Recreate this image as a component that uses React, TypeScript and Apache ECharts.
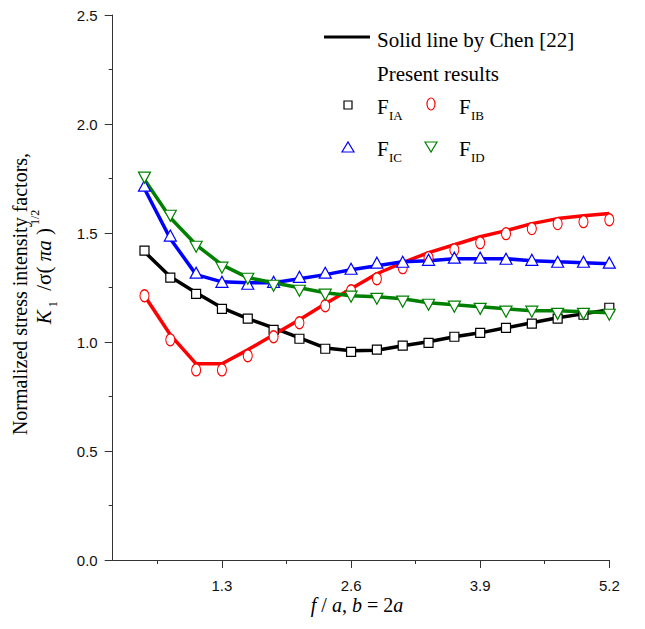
import React, { useEffect, useRef } from "react";
import * as echarts from "echarts";

// f/a positions of the computed points
const X_VALUES = [0.52, 0.78, 1.04, 1.3, 1.56, 1.82, 2.08, 2.34, 2.6, 2.86, 3.12, 3.38, 3.64, 3.9, 4.16, 4.42, 4.68, 4.94, 5.2];

// Solid lines by Chen [22]
const CHEN_A = [1.414, 1.299, 1.226, 1.157, 1.107, 1.065, 1.019, 0.973, 0.96, 0.962, 0.983, 1.001, 1.024, 1.042, 1.065, 1.088, 1.111, 1.129, 1.148];
const CHEN_B = [1.212, 1.033, 0.9, 0.9, 0.964, 1.033, 1.102, 1.175, 1.244, 1.313, 1.364, 1.41, 1.446, 1.483, 1.511, 1.543, 1.566, 1.579, 1.589];
const CHEN_C = [1.703, 1.474, 1.309, 1.276, 1.272, 1.272, 1.29, 1.309, 1.331, 1.35, 1.368, 1.373, 1.382, 1.382, 1.382, 1.373, 1.368, 1.364, 1.359];
const CHEN_D = [1.745, 1.57, 1.446, 1.354, 1.295, 1.272, 1.249, 1.226, 1.212, 1.208, 1.198, 1.18, 1.171, 1.162, 1.152, 1.143, 1.143, 1.139, 1.134];

// Present results
const F_IA = [1.419, 1.295, 1.221, 1.152, 1.107, 1.056, 1.015, 0.969, 0.955, 0.965, 0.983, 0.996, 1.024, 1.042, 1.065, 1.084, 1.107, 1.125, 1.157];
const F_IB = [1.212, 1.01, 0.872, 0.872, 0.937, 1.024, 1.088, 1.166, 1.235, 1.29, 1.341, 1.387, 1.423, 1.455, 1.497, 1.52, 1.543, 1.552, 1.561];
const F_IC = [1.717, 1.488, 1.318, 1.276, 1.267, 1.276, 1.299, 1.318, 1.336, 1.364, 1.368, 1.377, 1.387, 1.387, 1.382, 1.377, 1.368, 1.368, 1.364];
const F_ID = [1.754, 1.579, 1.437, 1.341, 1.29, 1.258, 1.235, 1.217, 1.208, 1.198, 1.185, 1.171, 1.162, 1.152, 1.139, 1.139, 1.129, 1.129, 1.125];

const X_MAJOR_TICKS = [1.3, 2.6, 3.9, 5.2];
const X_MINOR_TICKS = [0.65, 1.95, 3.25, 4.55];

const SERIF = "'Liberation Serif', 'Times New Roman', serif";
const SANS = "'Liberation Sans', Arial, sans-serif";

const ELLIPSE = "path://M0,6 A4.5,6 0 1,1 9,6 A4.5,6 0 1,1 0,6 Z";

const toPairs = (ys: number[]) => X_VALUES.map((x, i) => [x, ys[i]]);

const lineSeries = (name: string, ys: number[], color: string) => ({
  name,
  type: "line",
  data: toPairs(ys),
  symbol: "none",
  smooth: false,
  z: 2,
  lineStyle: { width: 3.5, color },
  itemStyle: { color },
});

const markerSeries = (name: string, ys: number[], color: string, symbol: string, size: any, rotate = 0) => ({
  name,
  type: "scatter",
  data: toPairs(ys),
  symbol,
  symbolSize: size,
  symbolRotate: rotate,
  z: 3,
  itemStyle: { color: "#ffffff", borderColor: color, borderWidth: 1.2, opacity: 1 },
});

function subText(x: number, y: number, main: string, sub: string) {
  return [
    {
      type: "text",
      x,
      y,
      style: { text: main, fontSize: 21, fontFamily: SERIF, fill: "#000", align: "left", verticalAlign: "middle", textAlign: "left", textVerticalAlign: "middle" },
    },
    {
      type: "text",
      x: x + 12,
      y: y + 8,
      style: { text: sub, fontSize: 13, fontFamily: SERIF, fill: "#000", align: "left", verticalAlign: "middle", textAlign: "left", textVerticalAlign: "middle" },
    },
  ];
}

const option: any = {
  animation: false,
  grid: { left: 112.7, right: 35.7, top: 15, bottom: 69, containLabel: false },
  xAxis: [
    {
      type: "value",
      min: 0.2,
      max: 5.2,
      axisLine: { show: true, lineStyle: { color: "#333", width: 1 } },
      axisTick: { show: true, customValues: X_MAJOR_TICKS, length: 8, lineStyle: { color: "#333", width: 1 } },
      axisLabel: {
        show: true,
        customValues: X_MAJOR_TICKS,
        formatter: (v: number) => v.toFixed(1),
        fontSize: 15,
        lineHeight: 15,
        fontFamily: SANS,
        color: "#111",
        margin: 18,
      },
      splitLine: { show: false },
    },
    {
      type: "value",
      min: 0.2,
      max: 5.2,
      position: "bottom",
      axisLine: { show: false },
      axisTick: { show: true, customValues: X_MINOR_TICKS, length: 4, lineStyle: { color: "#333", width: 1 } },
      axisLabel: { show: false },
      splitLine: { show: false },
    },
  ],
  yAxis: {
    type: "value",
    min: 0,
    max: 2.5,
    interval: 0.5,
    axisLine: { show: true, lineStyle: { color: "#333", width: 1 } },
    axisTick: { show: true, length: 8, lineStyle: { color: "#333", width: 1 } },
    minorTick: { show: true, splitNumber: 2, length: 4, lineStyle: { color: "#333", width: 1 } },
    axisLabel: {
      formatter: (v: number) => v.toFixed(1),
      fontSize: 15,
      fontFamily: SANS,
      color: "#111",
      margin: 15,
    },
    splitLine: { show: false },
    minorSplitLine: { show: false },
  },
  series: [
    lineSeries("Chen F_IA", CHEN_A, "#000000"),
    lineSeries("Chen F_IB", CHEN_B, "#ff0000"),
    lineSeries("Chen F_IC", CHEN_C, "#0000ff"),
    lineSeries("Chen F_ID", CHEN_D, "#008000"),
    markerSeries("F_IA", F_IA, "#000000", "rect", 9),
    markerSeries("F_IB", F_IB, "#ff0000", ELLIPSE, [9, 12]),
    markerSeries("F_IC", F_IC, "#0000ff", "triangle", [12, 11]),
    markerSeries("F_ID", F_ID, "#008000", "triangle", [12, 11], 180),
  ],
  graphic: [
    // legend
    { type: "line", shape: { x1: 324, y1: 37, x2: 370, y2: 37 }, style: { stroke: "#000", lineWidth: 3 } },
    {
      type: "text",
      x: 377,
      y: 40,
      style: { text: "Solid line by Chen [22]", fontSize: 21, fontFamily: SERIF, fill: "#000", align: "left", verticalAlign: "middle", textAlign: "left", textVerticalAlign: "middle" },
    },
    {
      type: "text",
      x: 377,
      y: 74,
      style: { text: "Present results", fontSize: 21, fontFamily: SERIF, fill: "#000", align: "left", verticalAlign: "middle", textAlign: "left", textVerticalAlign: "middle" },
    },
    { type: "rect", shape: { x: 344, y: 101, width: 8, height: 8 }, style: { fill: "#fff", stroke: "#000", lineWidth: 1.2 } },
    ...subText(377, 107, "F", "IA"),
    { type: "ellipse", shape: { cx: 431, cy: 104, rx: 4, ry: 6 }, style: { fill: "#fff", stroke: "#ff0000", lineWidth: 1.2 } },
    ...subText(459, 107, "F", "IB"),
    { type: "polygon", shape: { points: [[342, 152], [354, 152], [348, 142]] }, style: { fill: "#fff", stroke: "#0000ff", lineWidth: 1.2 } },
    ...subText(377, 149, "F", "IC"),
    { type: "polygon", shape: { points: [[425, 142], [437, 142], [431, 152]] }, style: { fill: "#fff", stroke: "#008000", lineWidth: 1.2 } },
    ...subText(459, 149, "F", "ID"),
    // y-axis title
    {
      type: "text",
      x: 20,
      y: 294,
      rotation: Math.PI / 2,
      style: { text: "Normalized stress intensity factors,", fontSize: 20, fontFamily: SERIF, fill: "#000", align: "center", verticalAlign: "middle", textAlign: "center", textVerticalAlign: "middle" },
    },
    {
      type: "text",
      x: 44,
      y: 267,
      rotation: Math.PI / 2,
      style: {
        text: "{i|K}{sub| 1}{n|  /σ( }{i|πa}{n| )}{sup| 1/2}",
        fontSize: 21,
        fontFamily: SERIF,
        fill: "#000",
        align: "center",
        verticalAlign: "middle",
        textAlign: "center",
        textVerticalAlign: "middle",
        rich: {
          i: { fontSize: 21, fontFamily: SERIF, fontStyle: "italic", lineHeight: 30, verticalAlign: "middle", fill: "#000" },
          n: { fontSize: 21, fontFamily: SERIF, lineHeight: 30, verticalAlign: "middle", fill: "#000" },
          sub: { fontSize: 12, fontFamily: SERIF, lineHeight: 12, verticalAlign: "bottom", fill: "#000" },
          sup: { fontSize: 12, fontFamily: SERIF, lineHeight: 24, verticalAlign: "top", fill: "#000" },
        },
      },
    },
    // x-axis title
    {
      type: "text",
      x: 357,
      y: 605,
      style: {
        text: "{i|f}{n| / }{i|a}{n|, }{i|b}{n| = 2}{i|a}",
        fontSize: 20,
        fontFamily: SERIF,
        fill: "#000",
        align: "center",
        verticalAlign: "middle",
        textAlign: "center",
        textVerticalAlign: "middle",
        rich: {
          i: { fontSize: 20, fontFamily: SERIF, fontStyle: "italic", lineHeight: 20, fill: "#000" },
          n: { fontSize: 20, fontFamily: SERIF, lineHeight: 20, fill: "#000" },
        },
      },
    },
  ],
};

export default function App() {
  const ref = useRef<HTMLDivElement>(null);
  useEffect(() => {
    if (!ref.current) return;
    const chart = echarts.init(ref.current, null, { renderer: "svg" });
    chart.setOption(option);
    return () => chart.dispose();
  }, []);
  return <div ref={ref} style={{ position: "absolute", left: 0, top: 0, width: 645, height: 629 }} />;
}
